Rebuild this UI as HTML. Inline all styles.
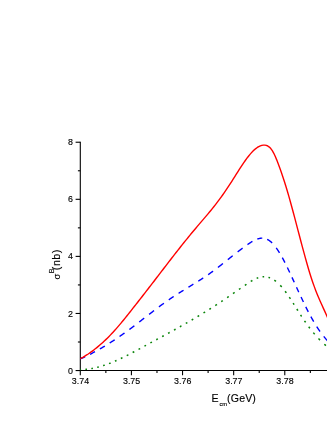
<!DOCTYPE html>
<html><head><meta charset="utf-8"><title>chart</title>
<style>
html,body{margin:0;padding:0;background:#fff;}
body{width:327px;height:423px;overflow:hidden;}
svg{display:block;will-change:transform;}
text{font-family:"Liberation Sans",sans-serif;fill:#000;stroke:#000;stroke-width:0.13px;}
</style></head><body>
<svg width="327" height="423" viewBox="0 0 327 423">
<rect width="327" height="423" fill="#fff"/>
<g stroke="#000" stroke-width="1.1" fill="none">
<line x1="80.3" y1="141.73" x2="80.3" y2="371.10"/>
<line x1="79.75" y1="370.55" x2="327" y2="370.55"/>
<line x1="75.60" y1="370.55" x2="80.30" y2="370.55"/>
<line x1="77.90" y1="342.01" x2="80.30" y2="342.01"/>
<line x1="75.60" y1="313.47" x2="80.30" y2="313.47"/>
<line x1="77.90" y1="284.93" x2="80.30" y2="284.93"/>
<line x1="75.60" y1="256.39" x2="80.30" y2="256.39"/>
<line x1="77.90" y1="227.85" x2="80.30" y2="227.85"/>
<line x1="75.60" y1="199.31" x2="80.30" y2="199.31"/>
<line x1="77.90" y1="170.77" x2="80.30" y2="170.77"/>
<line x1="75.60" y1="142.23" x2="80.30" y2="142.23"/>
<line x1="80.30" y1="370.55" x2="80.30" y2="375.25"/>
<line x1="105.86" y1="370.55" x2="105.86" y2="372.95"/>
<line x1="131.42" y1="370.55" x2="131.42" y2="375.25"/>
<line x1="156.98" y1="370.55" x2="156.98" y2="372.95"/>
<line x1="182.54" y1="370.55" x2="182.54" y2="375.25"/>
<line x1="208.10" y1="370.55" x2="208.10" y2="372.95"/>
<line x1="233.66" y1="370.55" x2="233.66" y2="375.25"/>
<line x1="259.22" y1="370.55" x2="259.22" y2="372.95"/>
<line x1="284.78" y1="370.55" x2="284.78" y2="375.25"/>
<line x1="310.34" y1="370.55" x2="310.34" y2="372.95"/>
</g>
<g fill="none" stroke-linejoin="round">
<path d="M80.30 369.61 L80.80 369.61 L81.10 369.60 M85.41 369.38 L85.91 369.34 L86.41 369.29 L86.91 369.24 L87.00 369.23 M91.31 368.62 L91.81 368.53 L92.31 368.44 L92.81 368.34 L92.91 368.32 M97.22 367.36 L97.72 367.23 L98.22 367.10 L98.72 366.97 L98.81 366.94 M103.12 365.66 L103.62 365.50 L104.12 365.33 L104.62 365.16 L104.72 365.13 M109.03 363.58 L109.53 363.39 L110.03 363.19 L110.53 363.00 L110.62 362.96 M114.93 361.17 L115.43 360.95 L115.93 360.73 L116.43 360.51 L116.53 360.47 M120.84 358.49 L121.34 358.25 L121.84 358.01 L122.34 357.77 L122.44 357.73 M126.74 355.60 L127.24 355.34 L127.74 355.09 L128.24 354.83 L128.34 354.78 M132.65 352.54 L133.15 352.28 L133.65 352.01 L134.15 351.74 L134.25 351.69 M138.55 349.38 L139.05 349.11 L139.55 348.84 L140.05 348.56 L140.15 348.51 M144.45 346.17 L144.95 345.89 L145.45 345.62 L145.95 345.35 L146.06 345.29 M150.36 342.95 L150.86 342.68 L151.36 342.41 L151.86 342.14 L151.96 342.09 M156.26 339.75 L156.76 339.48 L157.26 339.21 L157.76 338.94 L157.87 338.88 M162.17 336.55 L162.67 336.27 L163.17 336.00 L163.67 335.73 L163.77 335.67 M168.07 333.32 L168.57 333.05 L169.07 332.77 L169.57 332.50 L169.68 332.45 M173.98 330.07 L174.48 329.80 L174.98 329.52 L175.48 329.24 L175.58 329.19 M179.88 326.78 L180.38 326.50 L180.88 326.22 L181.38 325.94 L181.49 325.88 M185.79 323.44 L186.29 323.15 L186.79 322.87 L187.29 322.58 L187.39 322.52 M191.69 320.03 L192.19 319.74 L192.69 319.45 L193.19 319.16 L193.30 319.10 M197.60 316.55 L198.10 316.25 L198.60 315.95 L199.10 315.65 L199.20 315.59 M203.50 312.98 L204.00 312.67 L204.50 312.36 L205.00 312.05 L205.11 311.99 M209.41 309.30 L209.91 308.99 L210.41 308.67 L210.91 308.35 L211.01 308.29 M215.31 305.51 L215.81 305.19 L216.31 304.86 L216.81 304.53 L216.91 304.47 M221.22 301.61 L221.72 301.27 L222.22 300.93 L222.72 300.60 L222.82 300.53 M227.12 297.60 L227.62 297.26 L228.12 296.92 L228.62 296.57 L228.72 296.50 M233.03 293.54 L233.53 293.19 L234.03 292.84 L234.53 292.50 L234.63 292.43 M238.94 289.44 L239.44 289.10 L239.94 288.75 L240.44 288.40 L240.53 288.33 M244.84 285.36 L245.34 285.02 L245.84 284.67 L246.34 284.33 L246.44 284.26 M250.75 281.42 L251.25 281.11 L251.75 280.81 L252.25 280.51 L252.34 280.45 M256.65 278.30 L257.15 278.11 L257.65 277.92 L258.15 277.75 L258.25 277.72 M262.56 276.82 L263.06 276.79 L263.56 276.77 L264.06 276.76 L264.15 276.76 M268.46 277.36 L268.96 277.51 L269.46 277.67 L269.96 277.85 L270.06 277.89 M274.37 280.17 L274.87 280.53 L275.37 280.89 L275.87 281.28 L275.97 281.36 M280.22 285.37 L280.69 285.87 L281.13 286.37 L281.57 286.87 L281.66 286.97 M285.12 291.27 L285.50 291.77 L285.87 292.27 L286.24 292.77 L286.31 292.87 M289.31 297.18 L289.64 297.68 L289.98 298.18 L290.31 298.68 L290.37 298.78 M293.14 303.08 L293.46 303.58 L293.77 304.08 L294.09 304.58 L294.15 304.68 M296.84 308.99 L297.15 309.49 L297.47 309.99 L297.78 310.49 L297.84 310.59 M300.57 314.89 L300.90 315.39 L301.22 315.89 L301.55 316.39 L301.61 316.49 M304.50 320.80 L304.84 321.30 L305.19 321.80 L305.54 322.30 L305.61 322.40 M308.71 326.70 L309.09 327.20 L309.46 327.70 L309.84 328.20 L309.92 328.30 M313.32 332.61 L313.73 333.11 L314.15 333.61 L314.57 334.11 L314.66 334.21 M318.49 338.51 L318.97 339.01 L319.45 339.51 L319.93 340.01 L320.03 340.11 M324.33 344.19 L324.83 344.63 L325.33 345.06 L325.83 345.48 L325.93 345.56" stroke="#0a850a" stroke-width="1.5"/>
<path d="M80.30 358.89 L80.80 358.67 L81.30 358.45 L81.80 358.23 L82.30 358.00 L82.80 357.78 L83.30 357.55 L83.80 357.32 L84.30 357.09 L84.80 356.85 L85.15 356.69 M90.04 354.29 L90.54 354.03 L91.04 353.78 L91.54 353.52 L92.04 353.26 L92.54 353.00 L93.04 352.73 L93.54 352.47 L94.04 352.20 L94.54 351.93 L94.99 351.69 M99.88 348.95 L100.38 348.67 L100.88 348.38 L101.38 348.08 L101.88 347.79 L102.38 347.50 L102.88 347.20 L103.38 346.90 L103.88 346.60 L104.38 346.30 L104.83 346.03 M109.72 342.99 L110.22 342.67 L110.72 342.35 L111.22 342.03 L111.72 341.71 L112.22 341.39 L112.72 341.06 L113.22 340.73 L113.72 340.40 L114.22 340.07 L114.67 339.78 M119.56 336.47 L120.06 336.12 L120.56 335.78 L121.06 335.43 L121.56 335.08 L122.06 334.73 L122.56 334.38 L123.06 334.02 L123.56 333.67 L124.06 333.31 L124.51 332.99 M129.40 329.44 L129.90 329.07 L130.40 328.70 L130.90 328.33 L131.40 327.96 L131.90 327.58 L132.40 327.21 L132.90 326.83 L133.40 326.46 L133.90 326.08 L134.35 325.74 M139.24 322.00 L139.74 321.61 L140.24 321.23 L140.74 320.84 L141.24 320.45 L141.74 320.06 L142.24 319.68 L142.74 319.29 L143.24 318.90 L143.74 318.51 L144.19 318.16 M149.08 314.38 L149.58 313.99 L150.08 313.60 L150.58 313.22 L151.08 312.83 L151.58 312.45 L152.08 312.07 L152.58 311.68 L153.08 311.30 L153.58 310.92 L154.03 310.58 M158.92 306.89 L159.42 306.52 L159.92 306.15 L160.42 305.78 L160.92 305.41 L161.42 305.04 L161.92 304.68 L162.42 304.31 L162.92 303.95 L163.42 303.59 L163.87 303.26 M168.76 299.80 L169.26 299.46 L169.76 299.11 L170.26 298.77 L170.76 298.43 L171.26 298.09 L171.76 297.76 L172.26 297.42 L172.76 297.09 L173.26 296.76 L173.71 296.46 M178.60 293.31 L179.10 292.99 L179.60 292.68 L180.10 292.36 L180.60 292.05 L181.10 291.74 L181.60 291.43 L182.10 291.12 L182.60 290.81 L183.10 290.50 L183.55 290.22 M188.44 287.22 L188.94 286.91 L189.44 286.61 L189.94 286.30 L190.44 286.00 L190.94 285.69 L191.44 285.38 L191.94 285.08 L192.44 284.77 L192.94 284.46 L193.39 284.19 M198.28 281.14 L198.78 280.82 L199.28 280.51 L199.78 280.19 L200.28 279.87 L200.78 279.55 L201.28 279.23 L201.78 278.90 L202.28 278.58 L202.78 278.25 L203.23 277.96 M208.12 274.66 L208.62 274.32 L209.12 273.97 L209.62 273.62 L210.12 273.26 L210.62 272.91 L211.12 272.55 L211.62 272.19 L212.12 271.83 L212.62 271.46 L213.07 271.13 M217.96 267.44 L218.46 267.05 L218.96 266.66 L219.46 266.28 L219.96 265.89 L220.46 265.49 L220.96 265.10 L221.46 264.71 L221.96 264.31 L222.46 263.92 L222.91 263.56 M227.80 259.66 L228.30 259.26 L228.80 258.86 L229.30 258.46 L229.80 258.06 L230.30 257.66 L230.80 257.26 L231.30 256.86 L231.80 256.47 L232.30 256.07 L232.75 255.71 M237.64 251.87 L238.14 251.48 L238.64 251.10 L239.14 250.71 L239.64 250.33 L240.14 249.95 L240.64 249.57 L241.14 249.19 L241.64 248.82 L242.14 248.45 L242.59 248.11 M247.48 244.60 L247.98 244.25 L248.48 243.91 L248.98 243.57 L249.48 243.23 L249.98 242.90 L250.48 242.58 L250.98 242.26 L251.48 241.95 L251.98 241.64 L252.43 241.37 M257.32 239.03 L257.82 238.86 L258.32 238.71 L258.82 238.57 L259.32 238.45 L259.82 238.35 L260.32 238.27 L260.82 238.21 L261.32 238.16 L261.82 238.14 L262.27 238.14 M267.16 239.33 L267.66 239.58 L268.16 239.86 L268.66 240.16 L269.16 240.49 L269.66 240.84 L270.16 241.22 L270.66 241.63 L271.16 242.05 L271.66 242.51 L272.11 242.94 M276.22 247.83 L276.58 248.33 L276.93 248.83 L277.27 249.33 L277.61 249.83 L277.94 250.33 L278.27 250.83 L278.59 251.33 L278.90 251.83 L279.21 252.33 L279.49 252.78 M282.30 257.67 L282.58 258.17 L282.85 258.67 L283.12 259.17 L283.38 259.67 L283.65 260.17 L283.91 260.67 L284.17 261.17 L284.43 261.67 L284.69 262.17 L284.92 262.62 M287.35 267.51 L287.59 268.01 L287.83 268.51 L288.07 269.01 L288.31 269.51 L288.55 270.01 L288.79 270.51 L289.03 271.01 L289.26 271.51 L289.50 272.01 L289.71 272.46 M291.99 277.35 L292.22 277.85 L292.45 278.35 L292.68 278.85 L292.91 279.35 L293.14 279.85 L293.37 280.35 L293.60 280.85 L293.83 281.35 L294.06 281.85 L294.27 282.30 M296.51 287.19 L296.74 287.69 L296.96 288.19 L297.19 288.69 L297.42 289.19 L297.65 289.69 L297.88 290.19 L298.11 290.69 L298.34 291.19 L298.58 291.69 L298.78 292.14 M301.06 297.03 L301.29 297.53 L301.53 298.03 L301.76 298.53 L302.00 299.03 L302.23 299.53 L302.47 300.03 L302.71 300.53 L302.95 301.03 L303.19 301.53 L303.40 301.98 M305.78 306.87 L306.03 307.37 L306.28 307.87 L306.53 308.37 L306.78 308.87 L307.03 309.37 L307.28 309.87 L307.54 310.37 L307.79 310.87 L308.05 311.37 L308.28 311.82 M310.88 316.71 L311.16 317.21 L311.43 317.71 L311.71 318.21 L311.99 318.71 L312.28 319.21 L312.56 319.71 L312.85 320.21 L313.14 320.71 L313.43 321.21 L313.70 321.66 M316.72 326.55 L317.05 327.05 L317.38 327.55 L317.71 328.05 L318.04 328.55 L318.38 329.05 L318.72 329.55 L319.06 330.05 L319.41 330.55 L319.76 331.05 L320.08 331.50 M323.75 336.39 L324.15 336.89 L324.55 337.39 L324.96 337.89 L325.37 338.39 L325.79 338.89 L326.21 339.39 L326.64 339.89 L327.07 340.39 L327.51 340.89 L327.91 341.34" stroke="#0000ff" stroke-width="1.4"/>
<path d="M80.30 358.75 L81.80 357.92 L83.30 357.06 L84.80 356.15 L86.30 355.21 L87.80 354.24 L89.30 353.22 L90.80 352.17 L92.30 351.08 L93.80 349.96 L95.30 348.80 L96.80 347.60 L98.30 346.36 L99.80 345.09 L101.30 343.78 L102.80 342.43 L104.30 341.04 L105.80 339.62 L107.30 338.16 L108.80 336.66 L110.30 335.13 L111.80 333.56 L113.30 331.95 L114.80 330.30 L116.30 328.61 L117.80 326.89 L119.30 325.14 L120.80 323.36 L122.30 321.55 L123.80 319.71 L125.30 317.86 L126.80 315.99 L128.30 314.11 L129.80 312.22 L131.30 310.32 L132.80 308.41 L134.30 306.51 L135.80 304.61 L137.30 302.70 L138.80 300.79 L140.30 298.88 L141.80 296.96 L143.30 295.04 L144.80 293.11 L146.30 291.18 L147.80 289.24 L149.30 287.30 L150.80 285.36 L152.30 283.41 L153.80 281.45 L155.30 279.50 L156.80 277.54 L158.30 275.59 L159.80 273.63 L161.30 271.67 L162.80 269.72 L164.30 267.77 L165.80 265.81 L167.30 263.87 L168.80 261.92 L170.30 259.98 L171.80 258.04 L173.30 256.11 L174.80 254.19 L176.30 252.27 L177.80 250.35 L179.30 248.45 L180.80 246.55 L182.30 244.67 L183.80 242.79 L185.30 240.92 L186.80 239.07 L188.30 237.22 L189.80 235.39 L191.30 233.57 L192.80 231.76 L194.30 229.97 L195.80 228.19 L197.30 226.42 L198.80 224.66 L200.30 222.90 L201.80 221.15 L203.30 219.40 L204.80 217.63 L206.30 215.86 L207.80 214.08 L209.30 212.28 L210.80 210.45 L212.30 208.61 L213.80 206.73 L215.30 204.83 L216.80 202.89 L218.30 200.91 L219.80 198.88 L221.30 196.82 L222.80 194.72 L224.30 192.57 L225.80 190.39 L227.30 188.17 L228.80 185.92 L230.30 183.63 L231.80 181.31 L233.30 178.97 L234.80 176.60 L236.30 174.22 L237.80 171.85 L239.30 169.49 L240.80 167.17 L242.30 164.89 L243.80 162.67 L245.30 160.51 L246.80 158.45 L248.30 156.48 L249.80 154.62 L251.30 152.89 L252.80 151.29 L254.30 149.85 L255.80 148.57 L257.30 147.47 L258.80 146.55 L260.30 145.85 L261.80 145.35 L263.30 145.09 L264.80 145.08 L266.30 145.37 L267.80 146.01 L269.30 147.06 L270.80 148.59 L272.30 150.66 L273.80 153.31 L275.30 156.52 L276.80 160.12 L278.30 163.99 L279.80 168.04 L281.30 172.27 L282.80 176.68 L284.30 181.28 L285.80 186.05 L287.30 191.02 L288.80 196.17 L290.30 201.49 L291.80 206.94 L293.30 212.51 L294.80 218.16 L296.30 223.86 L297.80 229.58 L299.30 235.29 L300.80 240.96 L302.30 246.58 L303.80 252.13 L305.30 257.60 L306.80 262.97 L308.30 268.20 L309.80 273.20 L311.30 277.94 L312.80 282.41 L314.30 286.64 L315.80 290.64 L317.30 294.42 L318.80 298.02 L320.30 301.48 L321.80 304.83 L323.30 308.13 L324.80 311.41 L326.30 314.71 L327.80 318.09 L329.00 320.86" stroke="#ff0000" stroke-width="1.4"/>
</g>
<g font-size="8.9">
<text x="73.0" y="373.65" text-anchor="end">0</text>
<text x="73.0" y="316.57" text-anchor="end">2</text>
<text x="73.0" y="259.49" text-anchor="end">4</text>
<text x="73.0" y="202.41" text-anchor="end">6</text>
<text x="73.0" y="145.33" text-anchor="end">8</text>
<text x="80.50" y="384.3" text-anchor="middle">3.74</text>
<text x="131.62" y="384.3" text-anchor="middle">3.75</text>
<text x="182.74" y="384.3" text-anchor="middle">3.76</text>
<text x="233.86" y="384.3" text-anchor="middle">3.77</text>
<text x="284.98" y="384.3" text-anchor="middle">3.78</text>
</g>
<text x="211.5" y="402.2" font-size="10.6">E<tspan font-size="5.8" dy="4.1" dx="0.8">cm</tspan><tspan dy="-4.1" letter-spacing="0.13">(GeV)</tspan></text>
<g transform="translate(59.6 279.2) rotate(-90)"><text x="-0.2" y="0" font-size="9.3">σ</text><text x="6.0" y="-5.7" font-size="7.2">B</text><text x="9.05" y="0" font-size="10.8" letter-spacing="0.45">(nb)</text></g>
</svg>
</body></html>
